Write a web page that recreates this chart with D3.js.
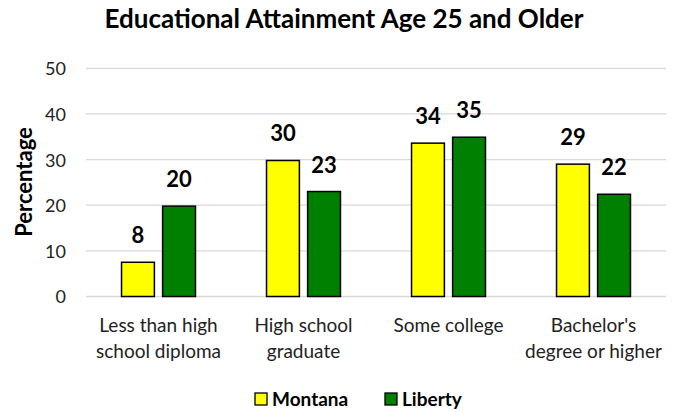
<!DOCTYPE html>
<html><head><meta charset="utf-8">
<script src="https://cdn.jsdelivr.net/npm/d3@7/dist/d3.min.js"></script>
<style>body{margin:0;background:#fff;}svg{display:block;font-family:Lato,"Open Sans",sans-serif;}</style>
</head><body>
<script>
const categories = [["Less than high","school diploma"],["High school","graduate"],["Some college",""],["Bachelor's","degree or higher"]];
const categoryKeys = ["lt","hs","sc","ba"];
const series = ["Montana","Liberty"];
const montana = [7.5, 29.8, 33.6, 29.0];
const liberty = [19.8, 23.0, 34.9, 22.4];
const montanaLabels = ["8","30","34","29"];
const libertyLabels = ["20","23","35","22"];
const yTicks = [0,10,20,30,40,50];
const colors = ["#FFFF00","#008000"];

const W=674,H=412;
const svg=d3.select("body").append("svg").attr("width",W).attr("height",H);
const x0=d3.scaleBand().domain(categoryKeys).range([86,666]).paddingInner(0.49).paddingOuter(0.245);
const x1=d3.scaleBand().domain(series).range([0,x0.bandwidth()]).paddingInner(0.2);
const y=d3.scaleLinear().domain([0,50]).range([296.5,68.3]);

// gridlines
svg.append("g").selectAll("line").data(yTicks).join("line")
  .attr("x1",86).attr("x2",666).attr("y1",d=>y(d)).attr("y2",d=>y(d))
  .attr("stroke","#d9d9d9").attr("stroke-width",1.3);

// y axis labels
const yAxis=d3.axisLeft(y).tickValues(yTicks).tickSize(0).tickPadding(0);
const ga=svg.append("g").attr("transform","translate(66,0)").call(yAxis);
ga.select(".domain").remove();
ga.selectAll("text").attr("font-size",18).attr("fill","#222").attr("font-family","Lato,sans-serif").attr("dy","0.36em");

// bars
const data=categoryKeys.map((k,i)=>({k,vals:[{s:"Montana",v:montana[i],l:montanaLabels[i]},{s:"Liberty",v:liberty[i],l:libertyLabels[i]}]}));
const g=svg.append("g").selectAll("g").data(data).join("g").attr("transform",d=>`translate(${x0(d.k)},0)`);
g.selectAll("rect").data(d=>d.vals).join("rect")
  .attr("x",d=>x1(d.s)).attr("width",x1.bandwidth())
  .attr("y",d=>y(d.v)).attr("height",d=>y(0)-y(d.v))
  .attr("fill",(d,i)=>colors[i]).attr("stroke","#000").attr("stroke-width",1.5);
g.selectAll("text").data(d=>d.vals).join("text")
  .attr("x",d=>x1(d.s)+x1.bandwidth()/2).attr("y",d=>y(d.v)-19)
  .attr("text-anchor","middle").attr("font-size",22).attr("font-weight","bold").attr("fill","#000")
  .text(d=>d.l);

// x labels
const xl=svg.append("g").selectAll("text").data(categoryKeys).join("text")
  .attr("x",d=>x0(d)+x0.bandwidth()/2).attr("y",332)
  .attr("text-anchor","middle").attr("font-size",19).attr("fill","#222");
xl.each(function(d,i){
  const t=d3.select(this);
  categories[i].forEach((line,j)=>{ if(line) t.append("tspan").attr("x",x0(d)+x0.bandwidth()/2).attr("dy",j?26:0).text(line);});
});

// title
svg.append("text").attr("x",344).attr("y",28).attr("text-anchor","middle")
  .attr("font-size",26).attr("font-weight","bold").attr("fill","#000").text("Educational Attainment Age 25 and Older");

// y title
svg.append("text").attr("transform","translate(32,182) rotate(-90)").attr("text-anchor","middle")
  .attr("font-size",22).attr("font-weight","bold").attr("fill","#000").text("Percentage");

// legend
const legX=[255,385];
const lg=svg.append("g").selectAll("g").data(series).join("g").attr("transform",(d,i)=>`translate(${legX[i]},393)`);
lg.append("rect").attr("width",12).attr("height",12).attr("fill",(d,i)=>colors[i]).attr("stroke","#000").attr("stroke-width",1.3);
lg.append("text").attr("x",17).attr("y",12.5).attr("font-size",19).attr("font-weight","bold").attr("fill","#000").text(d=>d);
</script>
</body></html>
